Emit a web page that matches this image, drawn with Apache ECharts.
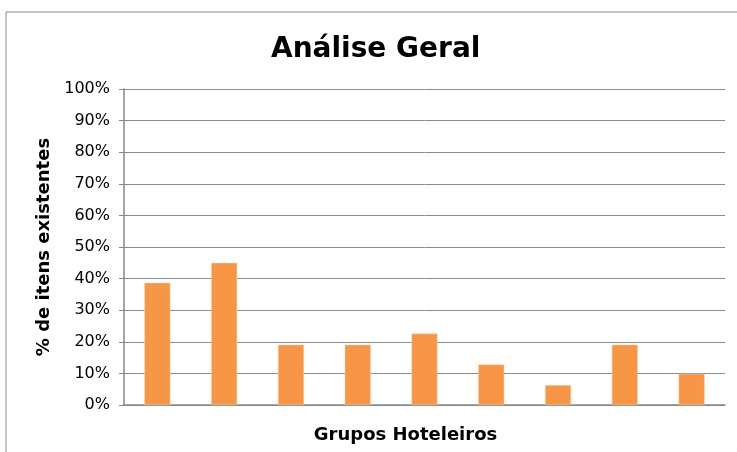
<!DOCTYPE html>
<html>
<head>
<meta charset="utf-8">
<script src="https://cdn.jsdelivr.net/npm/echarts@6/dist/echarts.min.js"></script>
<style>
  html, body { margin: 0; padding: 0; background: #fff; }
  #chart { width: 737px; height: 452px; }
</style>
</head>
<body>
<div id="chart"></div>
<script>
// dados do gráfico
const grupos = ['G1', 'G2', 'G3', 'G4', 'G5', 'G6', 'G7', 'G8', 'G9']
const percentuais = [38.7, 45.0, 19.1, 19.1, 22.6, 12.8, 6.3, 19.1, 9.9]

const chart = echarts.init(document.getElementById('chart'))
const fonte = 'DejaVu Sans, Verdana, sans-serif'

const option = {
  animation: false,
  backgroundColor: '#fff',
  title: {
    text: 'Análise Geral',
    left: 266,
    top: 31,
    textStyle: {
      fontFamily: fonte,
      fontWeight: 'bold',
      fontSize: 28,
      color: '#000'
    }
  },
  graphic: [
    {
      type: 'rect',
      shape: { x: 6, y: 12, width: 740, height: 450 },
      style: { fill: 'none', stroke: '#8c8c8c', lineWidth: 1 },
      silent: true
    }
  ],
  grid: {
    left: 124,
    right: 12,
    top: 89,
    bottom: 47
  },
  xAxis: {
    type: 'category',
    data: grupos,
    name: 'Grupos Hoteleiros',
    nameLocation: 'middle',
    nameGap: 21,
    nameTextStyle: {
      fontFamily: fonte,
      fontWeight: 'bold',
      fontSize: 18,
      color: '#000',
      padding: [0, 38, 0, 0]
    },
    axisLine: { lineStyle: { color: '#868686', width: 1.5 } },
    axisTick: { show: false },
    axisLabel: { show: false }
  },
  yAxis: {
    type: 'value',
    min: 0,
    max: 100,
    interval: 10,
    name: '% de itens existentes',
    nameLocation: 'middle',
    nameGap: 71,
    nameTextStyle: {
      fontFamily: fonte,
      fontWeight: 'bold',
      fontSize: 18,
      color: '#000'
    },
    axisLine: { show: true, lineStyle: { color: '#868686', width: 1.5 } },
    axisTick: { show: true, length: 5, lineStyle: { color: '#868686' } },
    axisLabel: {
      formatter: '{value}%',
      fontFamily: fonte,
      fontSize: 16,
      color: '#000',
      margin: 14
    },
    splitLine: { lineStyle: { color: '#8c8c8c', width: 1 } }
  },
  series: [
    {
      type: 'bar',
      data: percentuais,
      barWidth: 26,
      itemStyle: {
        color: '#F79646',
        borderColor: '#FBD0B0',
        borderWidth: 0.5
      }
    }
  ]
}

chart.setOption(option)
</script>
</body>
</html>
